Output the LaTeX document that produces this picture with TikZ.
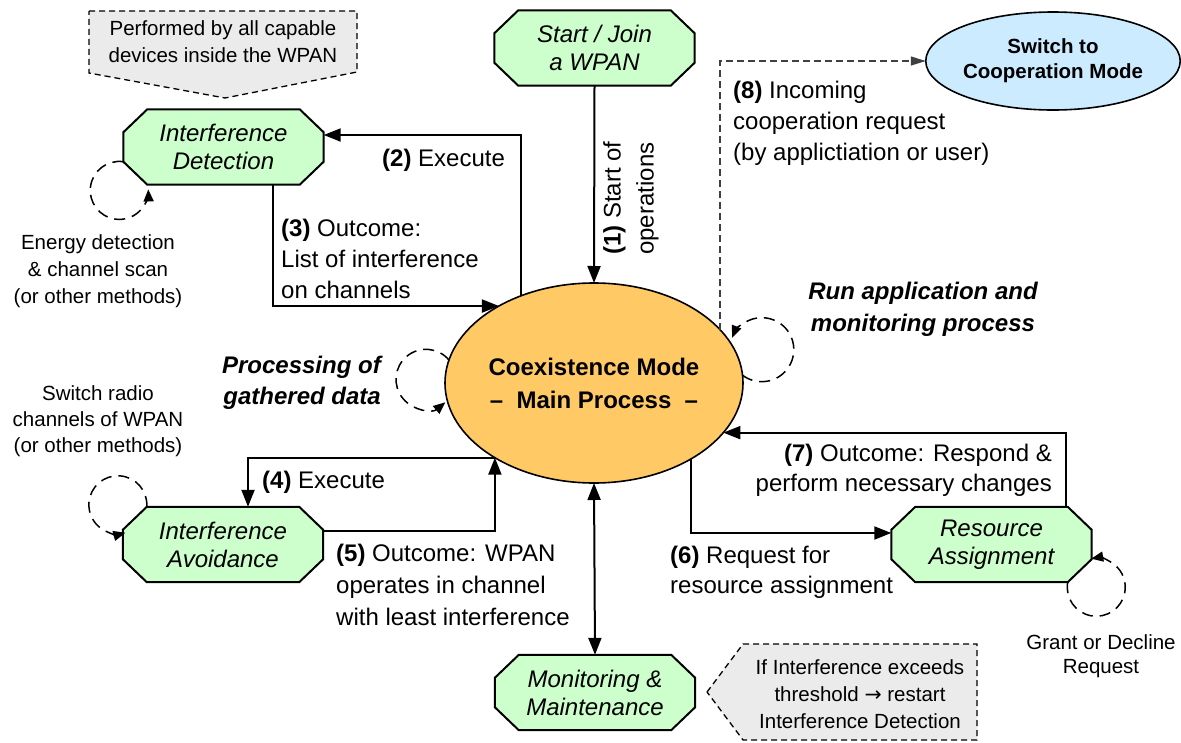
\documentclass[tikz,border=0pt]{standalone}
\usepackage{fontspec}
\setmainfont{Liberation Sans}
\newfontfamily\arrowfont{DejaVu Sans}
\usetikzlibrary{arrows.meta,shapes.geometric,backgrounds,calc}

\definecolor{stepgreen}{HTML}{CCFFCC}
\definecolor{coreorange}{HTML}{FFC966}
\definecolor{coopblue}{HTML}{CCEBFF}
\definecolor{notegray}{HTML}{EBEBEB}
\definecolor{dashgray}{HTML}{404040}

\tikzset{
  lbl/.style={inner sep=0pt, font=\fontsize{24}{31}\selectfont},
  emphlbl/.style={inner sep=0pt, font=\bfseries\itshape\fontsize{24}{32}\selectfont},
  note/.style={inner sep=0pt, align=center, font=\fontsize{20.5}{27}\selectfont},
  octbox/.style={minimum width=200pt, minimum height=75pt, inner sep=0pt,
    align=center, font=\itshape\fontsize{24}{28}\selectfont},
  mainproc/.style={ellipse, draw, line width=1.6pt, fill=coreorange,
    minimum width=298pt, minimum height=200pt, inner sep=0pt, outer sep=0pt,
    align=center, font=\bfseries\fontsize{24}{33}\selectfont},
  coopnode/.style={ellipse, draw, line width=1.6pt, fill=coopblue,
    minimum width=224pt, minimum height=98pt, inner sep=0pt, outer sep=0pt,
    align=center, font=\bfseries\fontsize{20.5}{25}\selectfont},
  octframe/.style={line width=2pt, fill=stepgreen, line join=miter},
  callout/.style={line width=1.3pt, dash pattern=on 6pt off 4pt, fill=notegray},
  arr/.style={line width=2pt, -{Triangle[length=17pt,width=13pt]}},
  dblarr/.style={line width=2pt, {Triangle[length=17pt,width=13pt]}-{Triangle[length=17pt,width=13pt]}},
  dasharr/.style={draw=dashgray, line width=1.2pt, dash pattern=on 7pt off 4pt,
    -{Triangle[length=15pt,width=9pt]}},
  loopline/.style={line width=1.5pt, dash pattern=on 11pt off 7pt,
    -{Triangle[length=12pt,width=10pt]}},
}

% chamfered frame around a named node
\newcommand\octagonframe[1]{%
  \draw[octframe]
    ($(#1.north west)+(24,0)$) -- ($(#1.north east)+(-24,0)$) --
    ($(#1.north east)+(0,-23)$) -- ($(#1.south east)+(0,23)$) --
    ($(#1.south east)+(-24,0)$) -- ($(#1.south west)+(24,0)$) --
    ($(#1.south west)+(0,23)$) -- ($(#1.north west)+(0,-23)$) -- cycle;}

\begin{document}
\begin{tikzpicture}[x=1pt,y=1pt]
\useasboundingbox (0,0) rectangle (1181,-742);

% process nodes
\node[mainproc] (main) at (594,-383) {Coexistence Mode\\[0pt]--\ \ Main Process\ \ --};
\node[octbox] (sj) at (594.5,-48) {Start / Join\\a WPAN};
\node[octbox] (id) at (223.5,-147) {Interference\\Detection};
\node[octbox] (ia) at (223,-544.5) {Interference\\Avoidance};
\node[octbox] (mm) at (595,-692.5) {Monitoring \&\\Maintenance};
\node[octbox] (ra) at (991.5,-544.5) {Resource\\Assignment};
\node[coopnode] (coop) at (1053,-61) {Switch to\\Cooperation Mode};

% side notes
\node[note] (nperf) at (223,-42) {Performed by all capable\\devices inside the WPAN};
\node[note] (nthresh) at (860,-694) {If Interference exceeds\\threshold {\arrowfont →} restart\\Interference Detection};
\node[note] (nenergy) at (98,-271) {Energy detection\\\& channel scan\\(or other methods)};
\node[note, font=\fontsize{20.5}{26}\selectfont] (nswitch) at (98,-421) {Switch radio\\channels of WPAN\\(or other methods)};
\node[note, font=\fontsize{20.5}{24}\selectfont] (ngrant) at (1101,-656) {Grant or Decline\\Request};

\begin{scope}[on background layer]
  \octagonframe{sj}
  \octagonframe{id}
  \octagonframe{ia}
  \octagonframe{mm}
  \octagonframe{ra}
  \draw[callout] (89,-11) -- (357,-11) -- (357,-72) -- (225,-98) -- (89,-73) -- cycle;
  \draw[callout] (707,-692) -- (743,-644) -- (977,-644) -- (977,-740) -- (743,-740) -- cycle;
\end{scope}

% connector labels
\node[lbl, rotate=90, align=left, font=\fontsize{24}{33}\selectfont] (l1) at (631,-198) {\textbf{(1)} Start of\\operations};
\node[lbl, anchor=west] (l2) at (382,-160) {\textbf{(2)} Execute};
\node[lbl, anchor=west, align=left] (l3) at (281,-259) {\textbf{(3)} Outcome:\\List of interference\\on channels};
\node[lbl, anchor=west] (l4) at (262,-482) {\textbf{(4)} Execute};
\node[lbl, anchor=west, align=left, font=\fontsize{24}{32}\selectfont] (l5) at (336,-585) {\textbf{(5)} Outcome: WPAN\\operates in channel\\with least interference};
\node[lbl, anchor=west, align=left, font=\fontsize{24}{30}\selectfont] (l6) at (670,-572) {\textbf{(6)} Request for\\resource assignment};
\node[lbl, anchor=east, align=right, font=\fontsize{24}{30}\selectfont] (l7) at (1052,-470) {\textbf{(7)} Outcome: Respond \&\\perform necessary changes};
\node[lbl, anchor=west, align=left] (l8) at (733,-123) {\textbf{(8)} Incoming\\cooperation request\\(by applictiation or user)};
\node[emphlbl, align=center] (lrun) at (923,-309) {Run application and\\monitoring process};
\node[emphlbl, anchor=east, align=right, font=\bfseries\itshape\fontsize{24}{31}\selectfont] (lproc) at (381,-383) {Processing of\\gathered data};

% connectors
\draw[arr] (sj.south) -- (main.north);
\draw[arr] (main.130.4) |- ([yshift=12pt]id.east);
\draw[arr] ([xshift=49.5pt]id.south) |- (main.141.9);
\draw[arr] (main.217.4) -| ([xshift=25pt]ia.north);
\draw[arr] ([yshift=13.5pt]ia.east) -| (main.217.4);
\draw[arr] (main.322.9) |- ([yshift=11.5pt]ra.west);
\draw[arr] ([xshift=74.5pt]ra.north) |- (main.339.1);
\draw[dblarr] (main.south) -- (mm.north);
\draw[dasharr] (main.23.75) |- (coop.west);

% self loops
\draw[loopline] ($(id.south west)+(0,23)$) arc[start angle=82, end angle=362, radius=29];
\draw[loopline] ($(ia.north west)+(24,0)$) arc[start angle=-4, end angle=285, radius=29];
\draw[loopline] ($(ra.south east)+(-24,0)$) arc[start angle=170, end angle=460, radius=29];
\draw[loopline] (main.171) arc[start angle=40, end angle=310, radius=30];
\draw[loopline] (main.3.1) arc[start angle=233, end angle=518, radius=32];
\end{tikzpicture}
\end{document}
